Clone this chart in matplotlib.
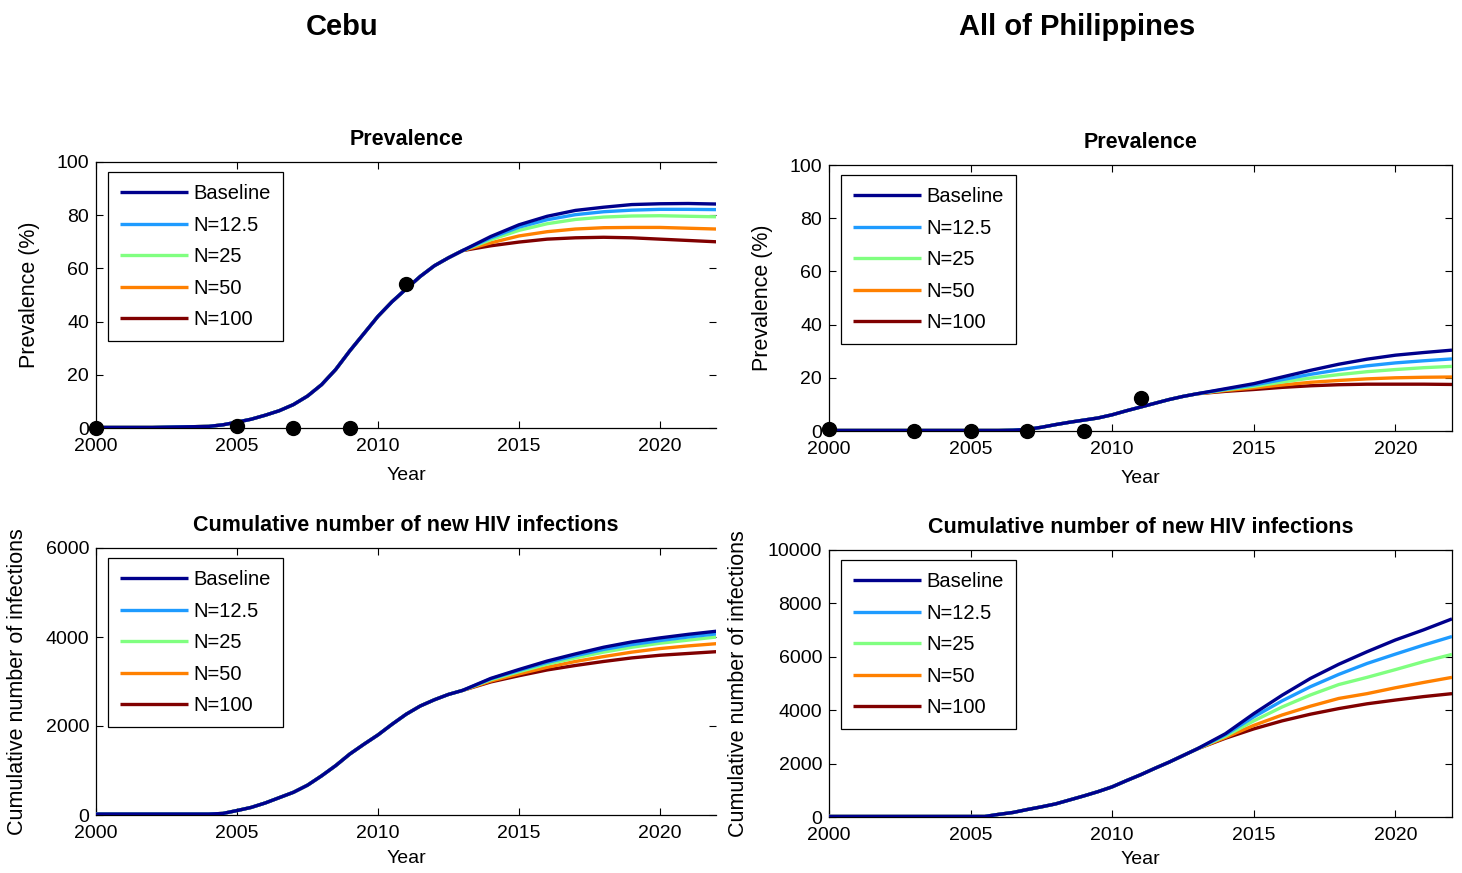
import matplotlib
matplotlib.use("Agg")
import matplotlib.pyplot as plt
from matplotlib import font_manager
import numpy as np

# ---------------- data ----------------
labels = ["Baseline", "N=12.5", "N=25", "N=50", "N=100"]
colors = ["#00008C", "#1E9BFF", "#80FF80", "#FF8000", "#800000"]

years_pre = [2000, 2002, 2004, 2004.5, 2005, 2005.5, 2006, 2006.5, 2007, 2007.5,
             2008, 2008.5, 2009, 2009.5, 2010, 2010.5, 2011, 2011.5, 2012, 2012.5, 2013]
years_post = [2013, 2014, 2015, 2016, 2017, 2018, 2019, 2020, 2021, 2022]

# Cebu prevalence (%)
cebu_prev_pre = [0.2, 0.2, 0.6, 1.2, 2.2, 3.3, 4.8, 6.5, 8.8, 12.0,
                 16.3, 22.0, 29.0, 35.5, 42.0, 47.5, 52.3, 57.0, 61.0, 64.0, 66.7]
cebu_prev_base = [66.7, 72.0, 76.4, 79.6, 81.8, 83.0, 84.0, 84.3, 84.4, 84.2]
cebu_prev_n12 = [66.7, 71.5, 75.5, 78.3, 80.2, 81.3, 81.9, 82.2, 82.2, 82.1]
cebu_prev_n25 = [66.7, 70.8, 74.3, 76.8, 78.4, 79.3, 79.7, 79.8, 79.6, 79.4]
cebu_prev_n50 = [66.7, 69.6, 72.2, 73.8, 74.8, 75.3, 75.4, 75.4, 75.1, 74.8]
cebu_prev_n100 = [66.7, 68.5, 69.9, 71.0, 71.5, 71.7, 71.5, 71.0, 70.5, 70.0]
cebu_obs_years = [2000, 2005, 2007, 2009, 2011]
cebu_obs_prev = [0.0, 0.6, 0.0, 0.0, 54.0]

# Philippines prevalence (%)
ph_prev_pre = [0.2, 0.2, 0.2, 0.2, 0.2, 0.2, 0.2, 0.3, 0.6, 1.4,
               2.4, 3.3, 4.1, 4.9, 6.1, 7.6, 9.0, 10.4, 11.8, 13.0, 14.0]
ph_prev_base = [14.0, 15.9, 17.8, 20.3, 22.8, 25.1, 27.0, 28.5, 29.5, 30.4]
ph_prev_n12 = [14.0, 15.7, 17.3, 19.3, 21.3, 23.0, 24.5, 25.6, 26.4, 27.1]
ph_prev_n25 = [14.0, 15.5, 16.8, 18.4, 19.9, 21.2, 22.3, 23.1, 23.8, 24.3]
ph_prev_n50 = [14.0, 15.2, 16.2, 17.3, 18.3, 19.0, 19.6, 20.0, 20.2, 20.3]
ph_prev_n100 = [14.0, 14.9, 15.6, 16.4, 17.0, 17.4, 17.6, 17.6, 17.6, 17.5]
ph_obs_years = [2000, 2003, 2005, 2007, 2009, 2011]
ph_obs_prev = [0.8, 0.0, 0.0, 0.0, 0.0, 12.5]

# Cebu cumulative new infections
cebu_cum_pre = [20, 20, 20, 35, 100, 170, 270, 390, 510, 670,
                880, 1110, 1370, 1590, 1800, 2040, 2265, 2450, 2590, 2710, 2800]
cebu_cum_base = [2800, 3070, 3270, 3460, 3620, 3770, 3890, 3980, 4060, 4130]
cebu_cum_n12 = [2800, 3060, 3250, 3430, 3580, 3720, 3830, 3920, 4000, 4070]
cebu_cum_n25 = [2800, 3040, 3220, 3390, 3530, 3660, 3770, 3860, 3930, 4000]
cebu_cum_n50 = [2800, 3010, 3170, 3320, 3450, 3560, 3660, 3740, 3800, 3850]
cebu_cum_n100 = [2800, 2990, 3130, 3260, 3360, 3450, 3530, 3590, 3630, 3670]

# Philippines cumulative new infections
ph_cum_pre = [20, 20, 20, 20, 20, 20, 100, 170, 280, 380,
              490, 640, 790, 950, 1130, 1360, 1580, 1820, 2050, 2300, 2550]
ph_cum_base = [2550, 3120, 3870, 4560, 5190, 5720, 6190, 6630, 7010, 7420]
ph_cum_n12 = [2550, 3080, 3750, 4350, 4880, 5340, 5750, 6100, 6440, 6760]
ph_cum_n25 = [2550, 3030, 3600, 4120, 4570, 4960, 5230, 5520, 5820, 6090]
ph_cum_n50 = [2550, 2980, 3430, 3820, 4150, 4440, 4620, 4840, 5040, 5230]
ph_cum_n100 = [2550, 2950, 3300, 3600, 3850, 4060, 4240, 4380, 4510, 4620]

# ---------------- fonts ----------------
names = {f.name for f in font_manager.fontManager.ttflist}
narrow = "Liberation Sans Narrow" if "Liberation Sans Narrow" in names else "Liberation Sans"
plt.rcParams["font.family"] = [narrow, "DejaVu Sans"]

W, H = 1462, 873
fig = plt.figure(figsize=(W / 100, H / 100), dpi=100)


def px_axes(x0, y0, x1, y1):
    return fig.add_axes([x0 / W, 1 - y1 / H, (x1 - x0) / W, (y1 - y0) / H])


def style(ax, ylim, yticks, title, ylabel, hide_right, xlabelpad):
    ax.set_xlim(2000, 2022)
    ax.set_ylim(*ylim)
    ax.set_xticks([2000, 2005, 2010, 2015, 2020])
    ax.set_yticks(yticks)
    ax.tick_params(direction="in", length=5, width=0.8, labelsize=14,
                   top=True, right=True)
    ax.tick_params(axis="x", pad=7)
    ax.tick_params(axis="y", pad=5)
    for s in ax.spines.values():
        s.set_linewidth(0.9)
    if hide_right:
        ax.spines["right"].set_visible(False)
    ax.set_title(title, fontsize=15.5, fontweight="bold", pad=12)
    ax.set_xlabel("Year", fontsize=14, labelpad=xlabelpad)
    ax.set_ylabel(ylabel, fontsize=15.5)


def draw(ax, pre, posts):
    handles = []
    for lab, col, post in zip(labels, colors, posts):
        ys = list(years_pre) + list(years_post[1:])
        vs = list(pre) + list(post[1:])
        h, = ax.plot(ys, vs, color=col, lw=2.4, label=lab, solid_capstyle="butt")
        handles.append(h)
    for h, z in zip(handles, [6, 5, 4, 3, 2]):
        h.set_zorder(z)
    leg = ax.legend(handles=handles, loc="upper left", bbox_to_anchor=(0.019, 0.962),
                    fontsize=14.5, frameon=True, fancybox=False, edgecolor="black",
                    framealpha=1, handlelength=3.4, handletextpad=0.25,
                    labelspacing=0.62, borderpad=0.6, borderaxespad=0.0)
    leg.get_frame().set_linewidth(0.9)
    leg.set_zorder(10)


# Top-left: Cebu prevalence
ax1 = px_axes(96, 162, 716.4, 428)
draw(ax1, cebu_prev_pre, [cebu_prev_base, cebu_prev_n12, cebu_prev_n25, cebu_prev_n50, cebu_prev_n100])
ax1.plot(cebu_obs_years, cebu_obs_prev, "o", color="black", ms=10, zorder=8, clip_on=False)
style(ax1, (0, 100), [0, 20, 40, 60, 80, 100], "Prevalence", "Prevalence (%)", True, 9)

# Top-right: Philippines prevalence
ax2 = px_axes(829, 165, 1452, 431)
draw(ax2, ph_prev_pre, [ph_prev_base, ph_prev_n12, ph_prev_n25, ph_prev_n50, ph_prev_n100])
ax2.plot(ph_obs_years, ph_obs_prev, "o", color="black", ms=10, zorder=8, clip_on=False)
style(ax2, (0, 100), [0, 20, 40, 60, 80, 100], "Prevalence", "Prevalence (%)", False, 9)

# Bottom-left: Cebu cumulative
ax3 = px_axes(96, 548, 716.4, 815)
draw(ax3, cebu_cum_pre, [cebu_cum_base, cebu_cum_n12, cebu_cum_n25, cebu_cum_n50, cebu_cum_n100])
style(ax3, (0, 6000), [0, 2000, 4000, 6000], "Cumulative number of new HIV infections",
      "Cumulative number of infections", True, 6)

# Bottom-right: Philippines cumulative
ax4 = px_axes(829, 550, 1452, 817)
draw(ax4, ph_cum_pre, [ph_cum_base, ph_cum_n12, ph_cum_n25, ph_cum_n50, ph_cum_n100])
style(ax4, (0, 10000), [0, 2000, 4000, 6000, 8000, 10000], "Cumulative number of new HIV infections",
      "Cumulative number of infections", False, 5)

ax1.yaxis.set_label_coords(-0.09, 0.5)
ax2.yaxis.set_label_coords(-0.09, 0.5)
ax3.yaxis.set_label_coords(-0.11, 0.5)
ax4.yaxis.set_label_coords(-0.128, 0.5)

fig.text(342 / W, 1 - 27 / H, "Cebu", ha="center", va="center", fontsize=21,
         fontweight="bold", family=["Liberation Sans", "DejaVu Sans"])
fig.text(1077 / W, 1 - 27 / H, "All of Philippines", ha="center", va="center", fontsize=21,
         fontweight="bold", family=["Liberation Sans", "DejaVu Sans"])

fig.savefig("out.png", dpi=100)
